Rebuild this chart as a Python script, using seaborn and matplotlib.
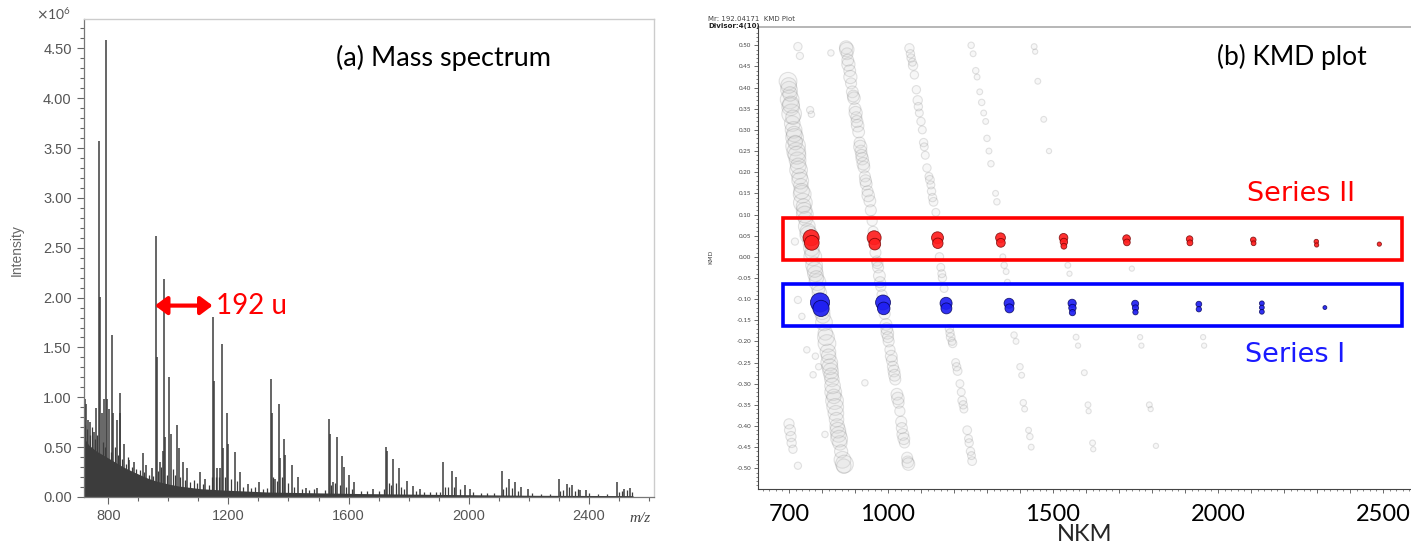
import pandas as pd
import seaborn as sns
import matplotlib.pyplot as plt
from matplotlib.patches import Rectangle
from matplotlib.ticker import MultipleLocator, FormatStrFormatter

# ---- (a) mass spectrum: main peaks (m/z, intensity x10^6)
PEAK_MZ = [721, 726, 733, 740, 751, 758, 767, 772, 778, 785, 793, 796, 803, 812, 815,
           828, 837, 840, 852, 870, 885, 915, 926, 944, 958, 961, 971, 982, 986, 989,
           1002, 1008, 1029, 1034, 1048, 1063, 1105, 1123, 1150, 1153, 1163, 1172, 1178,
           1181, 1196, 1199, 1223, 1237, 1264, 1301, 1342, 1345, 1356, 1368, 1371, 1386,
           1389, 1413, 1431, 1458, 1495, 1535, 1538, 1548, 1562, 1577, 1584, 1602, 1618,
           1681, 1724, 1727, 1749, 1767, 1796, 1815, 1837, 1916, 1944, 1959, 1989, 2004,
           2110, 2135, 2154, 2176, 2197, 2301, 2327, 2345, 2373, 2391, 2495, 2519, 2538]
PEAK_INT = [0.98, 0.93, 0.77, 0.75, 0.65, 0.89, 3.57, 2.01, 0.84, 0.98, 4.58, 0.98, 0.88, 1.63, 0.84,
            0.77, 1.04, 0.84, 0.53, 0.37, 0.35, 0.44, 0.32, 0.29, 2.62, 1.40, 0.35, 0.46, 2.19, 0.60,
            1.20, 0.63, 0.72, 0.49, 0.35, 0.29, 0.25, 0.18, 1.81, 1.16, 0.29, 0.29, 1.53,
            0.49, 0.84, 0.53, 0.45, 0.25, 0.13, 0.15, 1.18, 0.84, 0.18, 0.93, 0.39, 0.58,
            0.42, 0.32, 0.20, 0.09, 0.09, 0.78, 0.63, 0.15, 0.60, 0.41, 0.30, 0.22, 0.15,
            0.08, 0.50, 0.46, 0.38, 0.29, 0.16, 0.11, 0.08, 0.35, 0.26, 0.20, 0.12, 0.08,
            0.26, 0.18, 0.15, 0.10, 0.08, 0.18, 0.13, 0.12, 0.07, 0.07, 0.15, 0.08, 0.09]

# small spikes riding on the chemical noise
NOISE_MZ = [722, 730, 737, 745, 755, 762, 782, 790, 808, 822, 832, 846, 858, 864, 878, 893,
            905, 920, 935, 950, 966, 976, 995, 1015, 1022, 1040, 1055, 1072, 1085, 1095, 1115,
            1135, 1145, 1158, 1168, 1188, 1210, 1230, 1250, 1275, 1290, 1315, 1330, 1350, 1362,
            1378, 1400, 1420, 1445, 1470, 1485, 1520, 1543, 1555, 1570, 1592, 1610, 1640, 1660,
            1700, 1718, 1735, 1742, 1758, 1775, 1785, 1825, 1850, 1870, 1890, 1905, 1922, 1932,
            1950, 1970, 2015, 2040, 2060, 2085, 2115, 2125, 2145, 2165, 2210, 2240, 2270, 2305,
            2315, 2335, 2355, 2365, 2400, 2430, 2460, 2500, 2510, 2528, 2545]
NOISE_INT = [0.72, 0.68, 0.62, 0.70, 0.58, 0.62, 0.55, 0.50, 0.45, 0.50, 0.42, 0.38, 0.33, 0.40, 0.30, 0.28,
             0.27, 0.25, 0.22, 0.21, 0.26, 0.30, 0.22, 0.28, 0.22, 0.20, 0.17, 0.15, 0.17, 0.14, 0.13,
             0.12, 0.20, 0.20, 0.20, 0.20, 0.18, 0.16, 0.10, 0.09, 0.10, 0.08, 0.09, 0.20, 0.16,
             0.20, 0.14, 0.10, 0.08, 0.07, 0.08, 0.07, 0.12, 0.14, 0.12, 0.10, 0.08, 0.06, 0.06,
             0.06, 0.08, 0.14, 0.12, 0.14, 0.10, 0.08, 0.06, 0.05, 0.05, 0.05, 0.05, 0.10, 0.10,
             0.10, 0.08, 0.05, 0.04, 0.04, 0.04, 0.08, 0.10, 0.09, 0.06, 0.04, 0.03, 0.03, 0.06,
             0.07, 0.10, 0.06, 0.08, 0.04, 0.03, 0.03, 0.05, 0.06, 0.07, 0.05]

# upper edge of the dense noise floor
ENV_MZ = [717, 735, 760, 800, 850, 885, 930, 959, 1000, 1034, 1108, 1182, 1331, 1629, 1926, 2224, 2548]
ENV_INT = [0.60, 0.52, 0.46, 0.39, 0.30, 0.25, 0.19, 0.16, 0.13, 0.11, 0.083, 0.07, 0.05, 0.035, 0.025, 0.017, 0.014]

# ---- (b) KMD plot: background components (grey), abundance in arbitrary units
GRAY_NKM = [697, 700, 702, 705, 708, 710, 714, 717, 720, 722, 726, 729, 732, 736, 740, 742, 746, 750,
            754, 760, 768, 772, 776, 780, 786, 792, 800, 806, 810, 815, 818, 822, 826, 830, 834, 838,
            842, 846, 850, 854, 862, 866,
            699, 703, 706, 712, 716, 719, 724, 728, 734, 738, 744, 748, 757, 764, 770, 778, 783, 789,
            797, 803, 812, 820, 824, 828, 832, 836, 840, 844, 848, 852, 858, 868,
            873, 876, 880, 884, 888, 892, 897, 900, 904, 908, 911, 914, 918, 922, 927, 930, 934, 938,
            945, 948, 952, 962, 966, 970, 974, 978, 990, 994, 998, 1002, 1006, 1012, 1018, 1022, 1027,
            1032, 1036, 1040, 1045, 1050, 1060,
            875, 878, 886, 895, 902, 906, 916, 920, 925, 932, 940, 955, 960, 968, 976, 982, 996, 1000,
            1010, 1015, 1020, 1030, 1042, 1048, 1058, 1062,
            1065, 1070, 1076, 1080, 1086, 1090, 1095, 1100, 1104, 1108, 1113, 1118, 1124, 1127, 1132,
            1138, 1145, 1156, 1160, 1165, 1170, 1186, 1190, 1196, 1205, 1211, 1218, 1225, 1230, 1240,
            1244, 1250, 1255,
            1068, 1074, 1092, 1110, 1130, 1135, 1163, 1188, 1194, 1208, 1222, 1228, 1246, 1253,
            1252, 1258, 1266, 1270, 1278, 1284, 1290, 1296, 1300, 1306, 1312, 1326, 1330, 1348, 1352,
            1358, 1362, 1382, 1388, 1400, 1405, 1410, 1414, 1426, 1430, 1434,
            1443, 1446, 1454, 1472, 1488, 1545, 1550, 1570, 1576, 1595, 1606, 1608, 1620, 1622,
            1739, 1764, 1768, 1792, 1796, 1812, 1955, 1958,
            727, 733, 827, 764, 768, 718, 727, 739, 754, 773, 930, 809, 727, 700, 703, 706, 708, 712,
            780, 790]
GRAY_KMD = [0.415, 0.395, 0.372, 0.355, 0.338, 0.315, 0.30, 0.282, 0.262, 0.248, 0.228, 0.205, 0.19,
            0.168, 0.148, 0.128, 0.11, 0.09, 0.072, 0.052, 0.02, 0.0, -0.02, -0.04, -0.06, -0.085, -0.13,
            -0.155, -0.18, -0.205, -0.225, -0.25, -0.27, -0.29, -0.32, -0.34, -0.37, -0.40, -0.42, -0.44,
            -0.48, -0.495,
            0.405, 0.385, 0.36, 0.33, 0.29, 0.27, 0.24, 0.215, 0.18, 0.155, 0.12, 0.10, 0.06, 0.035,
            0.01, -0.03, -0.05, -0.075, -0.11, -0.14, -0.19, -0.235, -0.26, -0.28, -0.305, -0.33, -0.355,
            -0.385, -0.41, -0.43, -0.46, -0.49,
            0.495, 0.48, 0.455, 0.44, 0.41, 0.39, 0.375, 0.35, 0.33, 0.31, 0.295, 0.27, 0.25, 0.232, 0.212,
            0.19, 0.172, 0.155, 0.132, 0.11, 0.085, 0.01, -0.01, -0.025, -0.045, -0.07, -0.135, -0.16,
            -0.18, -0.2, -0.22, -0.245, -0.27, -0.29, -0.325, -0.345, -0.365, -0.39, -0.42, -0.44, -0.485,
            0.49, 0.465, 0.425, 0.38, 0.34, 0.32, 0.26, 0.24, 0.22, 0.18, 0.145, 0.06, 0.03, -0.015,
            -0.06, -0.09, -0.17, -0.19, -0.235, -0.26, -0.28, -0.335, -0.405, -0.43, -0.475, -0.49,
            0.493, 0.47, 0.452, 0.43, 0.395, 0.37, 0.34, 0.32, 0.30, 0.27, 0.24, 0.21, 0.19, 0.182, 0.155,
            0.13, 0.105, 0.0, -0.025, -0.05, -0.075, -0.17, -0.19, -0.205, -0.25, -0.27, -0.30, -0.34,
            -0.36, -0.41, -0.43, -0.46, -0.483,
            0.48, 0.46, 0.355, 0.26, 0.17, 0.14, -0.04, -0.18, -0.20, -0.26, -0.32, -0.35, -0.44, -0.47,
            0.50, 0.48, 0.44, 0.425, 0.39, 0.365, 0.34, 0.32, 0.28, 0.25, 0.22, 0.15, 0.13, 0.0, -0.02,
            -0.035, -0.06, -0.185, -0.20, -0.26, -0.28, -0.345, -0.36, -0.41, -0.425, -0.45,
            0.497, 0.485, 0.415, 0.325, 0.25, -0.02, -0.04, -0.19, -0.21, -0.274, -0.35, -0.365, -0.44,
            -0.455,
            -0.028, -0.19, -0.21, -0.35, -0.36, -0.447, -0.19, -0.21,
            0.497, 0.475, 0.482, 0.347, 0.337, 0.036, -0.102, -0.141, -0.22, -0.279, -0.298, -0.42, -0.494,
            -0.395, -0.41, -0.425, -0.44, -0.455, -0.235, -0.26]
GRAY_ABUND = [90, 80, 100, 90, 110, 70, 80, 90, 110, 100, 80, 90, 70, 60, 90, 100, 70, 60,
              80, 90, 70, 90, 80, 70, 80, 60, 70, 80, 60, 90, 70, 80, 70, 60, 80, 90,
              70, 60, 70, 60, 80, 60,
              70, 60, 80, 60, 70, 60, 90, 70, 80, 70, 60, 80, 70, 60, 60, 70, 60, 50,
              50, 60, 80, 60, 70, 60, 70, 60, 80, 60, 70, 80, 50, 90,
              50, 40, 50, 40, 35, 40, 45, 40, 35, 45, 40, 35, 40, 45, 40, 35, 40, 35,
              40, 35, 30, 35, 30, 35, 40, 30, 35, 40, 45, 35, 30, 35, 40, 35, 40,
              35, 30, 35, 40, 30, 40,
              60, 40, 50, 40, 50, 40, 50, 40, 45, 40, 45, 30, 30, 35, 35, 30, 40, 35,
              40, 35, 40, 45, 35, 40, 35, 45,
              25, 20, 25, 20, 20, 25, 18, 20, 18, 20, 18, 20, 18, 22, 20,
              22, 18, 20, 18, 20, 18, 20, 22, 20, 18, 22, 18, 22, 18, 22,
              18, 20, 22,
              20, 18, 20, 18, 18, 20, 18, 20, 18, 20, 18, 20, 20, 18,
              12, 10, 12, 10, 10, 12, 10, 10, 12, 10, 12, 10, 12, 10, 12,
              10, 10, 12, 10, 12, 10, 12, 10, 10, 12, 10,
              10, 8, 10, 10, 8, 10, 8, 10, 8, 10, 10, 8, 10, 8,
              8, 8, 8, 10, 8, 8, 8, 8,
              20, 15, 12, 15, 12, 15, 15, 12, 12, 12, 12, 12, 15, 30, 35, 30, 25, 20,
              12, 12]

# ---- (b) KMD plot: homologous series (192 u repeat)
S2_NKM = [767, 769, 958, 960, 1150, 1151, 1341, 1342, 1532, 1533, 1533, 1723, 1724, 1914, 1915,
          2107, 2108, 2298, 2299, 2489]
S2_KMD = [0.045, 0.033, 0.045, 0.030, 0.045, 0.032, 0.045, 0.033, 0.045, 0.035, 0.025, 0.043, 0.034,
          0.042, 0.033, 0.040, 0.032, 0.036, 0.028, 0.030]
S2_ABUND = [96, 80, 72, 50, 52, 40, 35, 28, 27, 20, 12, 21, 16, 15, 12, 11, 8, 7, 6, 6]

S1_NKM = [794, 797, 985, 987, 1176, 1177, 1367, 1368, 1558, 1559, 1559, 1749, 1750, 1750, 1942,
          1942, 2133, 2133, 2133, 2324]
S1_KMD = [-0.108, -0.122, -0.108, -0.122, -0.110, -0.122, -0.110, -0.122, -0.110, -0.121, -0.132,
          -0.111, -0.121, -0.131, -0.112, -0.124, -0.110, -0.120, -0.130, -0.120]
S1_ABUND = [140, 100, 85, 60, 55, 45, 38, 30, 25, 20, 14, 18, 14, 10, 12, 10, 8, 8, 8, 5]

sns.set_theme(style="white")
plt.rcParams["axes.unicode_minus"] = False
plt.rcParams["font.family"] = ["Lato", "DejaVu Sans"]

fig = plt.figure(figsize=(14.11, 5.44), dpi=100)

# ------------------------------------------------------------------ panel (a)
ax1 = fig.add_axes([0.0592, 0.0864, 0.4043, 0.8778])
ax1.fill_between(ENV_MZ, 0, ENV_INT, color="#3c3c3c", lw=0)
ax1.vlines(NOISE_MZ, 0, NOISE_INT, color="#3c3c3c", lw=0.9)
ax1.vlines(PEAK_MZ, 0, PEAK_INT, color="#3c3c3c", lw=1.1)

ax1.set_xlim(717, 2618)
ax1.set_ylim(0, 4.79)
ax1.xaxis.set_major_locator(MultipleLocator(400))
ax1.xaxis.set_minor_locator(MultipleLocator(100))
ax1.yaxis.set_major_locator(MultipleLocator(0.5))
ax1.yaxis.set_minor_locator(MultipleLocator(0.1))
ax1.yaxis.set_major_formatter(FormatStrFormatter("%.2f"))
ax1.tick_params(axis="both", which="both", direction="out", colors="#666666", left=True,
                bottom=True, labelcolor="#555555", labelsize=10.5, width=0.8)
ax1.tick_params(axis="both", which="major", length=5)
ax1.tick_params(axis="both", which="minor", length=3)
for lab in ax1.get_xticklabels() + ax1.get_yticklabels():
    lab.set_family("Liberation Sans")
for side in ["left", "bottom"]:
    ax1.spines[side].set_color("#777777")
    ax1.spines[side].set_linewidth(0.9)
for side in ["top", "right"]:
    ax1.spines[side].set_color("#cccccc")
    ax1.spines[side].set_linewidth(1.0)
ax1.set_xlabel("")
ax1.set_ylabel("")
ax1.text(-0.117, 0.517, "Intensity", transform=ax1.transAxes, rotation=90, ha="center",
         va="center", fontsize=10, color="#666666", family="Liberation Sans")
ax1.text(-0.052, 0.995, r"$\times\mathregular{10^6}$", transform=ax1.transAxes, ha="center",
         va="bottom", fontsize=10, color="#555555")
ax1.text(0.975, -0.045, "m/z", transform=ax1.transAxes, ha="center", va="center",
         fontsize=11, color="#444444", style="italic", family="Liberation Serif")
ax1.text(1918, 4.40, "(a) Mass spectrum", ha="center", va="center", fontsize=19.5, color="black")
ax1.annotate("", xy=(955, 1.92), xytext=(1147, 1.92),
             arrowprops=dict(arrowstyle="<|-|>,head_length=0.6,head_width=0.45",
                             color="red", lw=3, shrinkA=0, shrinkB=0))
ax1.text(1160, 1.92, "192 u", ha="left", va="center", fontsize=20, color="red")

# ------------------------------------------------------------------ panel (b)
ax2 = fig.add_axes([0.5372, 0.1011, 0.4628, 0.8498])

gray = pd.DataFrame({"NKM": GRAY_NKM, "KMD": GRAY_KMD, "abund": GRAY_ABUND})
s2 = pd.DataFrame({"NKM": S2_NKM, "KMD": S2_KMD, "abund": S2_ABUND})
s1 = pd.DataFrame({"NKM": S1_NKM, "KMD": S1_KMD, "abund": S1_ABUND})

sns.scatterplot(data=gray, x="NKM", y="KMD", size="abund", sizes=(14, 200), size_norm=(8, 110),
                color=(0.82, 0.82, 0.82, 0.16), edgecolor=(0.40, 0.40, 0.40, 0.18),
                linewidth=0.8, ax=ax2, legend=False)
sns.scatterplot(data=s2, x="NKM", y="KMD", size="abund", sizes=(8, 135), size_norm=(5, 96),
                color=(1.0, 0.12, 0.12, 0.92), edgecolor=(0.45, 0.0, 0.0, 0.8), linewidth=0.6,
                ax=ax2, legend=False)
sns.scatterplot(data=s1, x="NKM", y="KMD", size="abund", sizes=(8, 190), size_norm=(5, 140),
                color=(0.12, 0.12, 0.95, 0.92), edgecolor=(0.0, 0.0, 0.35, 0.8), linewidth=0.6,
                ax=ax2, legend=False)

ax2.add_patch(Rectangle((682, -0.007), 2558 - 682, 0.099, fill=False, ec="#ff0000", lw=2.6,
                        clip_on=False))
ax2.add_patch(Rectangle((682, -0.163), 2558 - 682, 0.098, fill=False, ec="#0000ff", lw=2.6,
                        clip_on=False))
ax2.text(2252, 0.149, "Series II", color="#ff0000", fontsize=19.5, ha="center", va="center",
         family="DejaVu Sans")
ax2.text(2233, -0.231, "Series I", color="#1a1aff", fontsize=19.5, ha="center", va="center",
         family="DejaVu Sans")
ax2.text(2224, 0.473, "(b) KMD plot", ha="center", va="center", fontsize=19, color="black")

ax2.set_xlim(606, 2585)
ax2.set_ylim(-0.549, 0.544)
ax2.yaxis.set_major_locator(MultipleLocator(0.05))
ax2.yaxis.set_minor_locator(MultipleLocator(0.01))
ax2.yaxis.set_major_formatter(FormatStrFormatter("%.2f"))
xt = list(range(700, 2600, 100))
ax2.set_xticks(xt)
ax2.set_xticklabels([str(v) if v in (700, 1000, 1500, 2000, 2500) else "" for v in xt])
ax2.xaxis.set_minor_locator(MultipleLocator(20))
ax2.tick_params(axis="y", which="major", direction="out", length=3, width=0.6, colors="#555555",
                labelsize=4.5, labelcolor="#444444", pad=2, left=True)
ax2.tick_params(axis="y", which="minor", direction="out", length=1.5, width=0.5, colors="#555555",
                left=True)
ax2.tick_params(axis="x", which="major", direction="out", length=3, width=0.6, colors="#555555",
                labelsize=17, labelcolor="black", pad=8, bottom=True)
ax2.tick_params(axis="x", which="minor", direction="out", length=1.5, width=0.5, colors="#555555",
                bottom=True)
for side in ["left", "bottom"]:
    ax2.spines[side].set_color("#444444")
    ax2.spines[side].set_linewidth(0.8)
ax2.spines["top"].set_color("#aaaaaa")
ax2.spines["top"].set_linewidth(1.2)
ax2.spines["right"].set_visible(False)
ax2.set_xlabel("NKM", fontsize=17, labelpad=-1)
ax2.set_ylabel("")
fig.text(0.504, 0.528, "KMD", rotation=90, fontsize=4.5, color="#444444", ha="center", va="center",
         family="DejaVu Sans")
fig.text(0.502, 0.961, "Mr: 192.04171  KMD Plot", fontsize=5, color="#444444", family="DejaVu Sans")
fig.text(0.502, 0.948, "Divisor:4(10)", fontsize=5, color="#222222", weight="bold",
         family="DejaVu Sans")

fig.savefig("out.png", dpi=100)
